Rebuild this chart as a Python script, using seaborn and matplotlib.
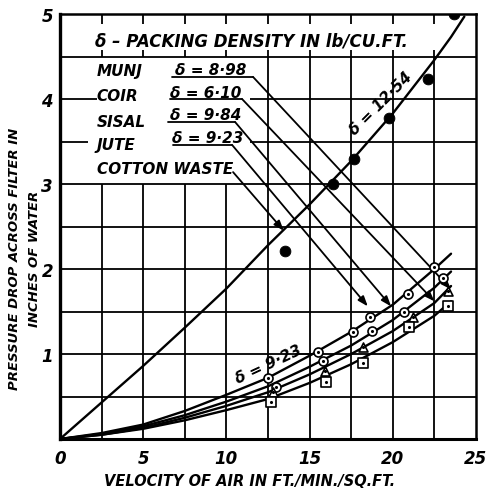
import numpy as np
import pandas as pd
import matplotlib
matplotlib.use("Agg")
import matplotlib.pyplot as plt
import seaborn as sns

# ---- fitted curves: velocity of air (ft/min/sq.ft) vs pressure drop (in. water)
curve_x = [0, 2.5, 5, 7.5, 10, 12.5, 15, 17.5, 20, 22.5, 23.5]
jute_curve = [0, 0.07, 0.17, 0.33, 0.52, 0.72, 0.98, 1.26, 1.58, 2.00, 2.18]
sisal_curve = [0, 0.06, 0.15, 0.28, 0.44, 0.62, 0.85, 1.10, 1.40, 1.78, 1.97]
coir_curve = [0, 0.05, 0.13, 0.25, 0.39, 0.55, 0.76, 1.00, 1.27, 1.60, 1.80]
munj_curve = [0, 0.05, 0.12, 0.22, 0.34, 0.47, 0.66, 0.88, 1.14, 1.45, 1.62]

cotton_x = [0, 2.5, 5, 7.5, 10, 12.5, 15, 17.5, 20, 22.5, 23.5, 24.3]
cotton_curve = [0, 0.43, 0.86, 1.31, 1.77, 2.28, 2.76, 3.27, 3.83, 4.46, 4.73, 4.97]

# ---- measured points
cotton_pts_x = [13.55, 16.4, 17.65, 19.8, 22.1, 23.7]
cotton_pts_y = [2.21, 3.00, 3.29, 3.78, 4.24, 5.00]
jute_pts_x = [12.5, 15.5, 17.6, 18.6, 20.9, 22.5]
jute_pts_y = [0.72, 1.02, 1.26, 1.43, 1.71, 2.02]
sisal_pts_x = [13.0, 15.8, 18.75, 20.7, 23.0]
sisal_pts_y = [0.61, 0.92, 1.27, 1.50, 1.90]
coir_pts_x = [12.8, 15.9, 18.2, 21.2, 23.3]
coir_pts_y = [0.55, 0.80, 1.08, 1.43, 1.74]
munj_pts_x = [12.7, 16.0, 18.2, 21.0, 23.3]
munj_pts_y = [0.43, 0.67, 0.90, 1.32, 1.57]

# ---- key text
fibres = ["MUNJ", "COIR", "SISAL", "JUTE", "COTTON WASTE"]
densities = ["8·98", "6·10", "9·84", "9·23"]
x_ticks = [0, 5, 10, 15, 20, 25]
y_ticks = [1, 2, 3, 4, 5]

sns.set_style("white")
plt.rcParams["font.family"] = ["DejaVu Sans"]
FONT = dict(fontweight="bold", fontstyle="italic", color="black")

fig = plt.figure(figsize=(4.87, 4.89), dpi=100)
ax = fig.add_axes([60 / 487, 1 - 440 / 489, 416 / 487, 425 / 489])
ax.set_xlim(0, 25)
ax.set_ylim(0, 5)

# ---- grid, hand-ruled with a blank panel for the key
g = dict(color="black", lw=1.3, zorder=1)
for yv in [0.5, 1.0, 1.5, 2.0, 2.5, 3.0, 4.5]:
    ax.hlines(yv, 0, 25, **g)
ax.hlines(4.0, 0, 2.2, **g)
ax.hlines(3.5, 0, 1.7, **g)
ax.hlines([4.0, 3.5], 11.4, 25, **g)
for xv in [2.5, 5, 7.5, 10]:
    ax.vlines(xv, 0, 3.0, **g)
for xv in [12.5, 15, 17.5, 20, 22.5]:
    ax.vlines(xv, 0, 4.5, **g)
for xv in [2.5, 5, 7.5, 10, 12.5, 15, 17.5, 20, 22.5]:
    ax.vlines(xv, 4.5, 4.58, **g)
    ax.vlines(xv, 4.88, 5.0, **g)

# ---- curves
line_kw = dict(color="black", lw=1.7, ax=ax, sort=False, estimator=None, zorder=3)
sns.lineplot(x=cotton_x, y=cotton_curve, **line_kw)
for c in [jute_curve, sisal_curve, coir_curve, munj_curve]:
    sns.lineplot(x=curve_x, y=c, **line_kw)

# ---- points
sns.scatterplot(x=cotton_pts_x, y=cotton_pts_y, ax=ax, color="black", s=60,
                edgecolor="black", zorder=5)
for px, py, mk in [(jute_pts_x, jute_pts_y, "o"), (sisal_pts_x, sisal_pts_y, "o"),
                   (coir_pts_x, coir_pts_y, "^"), (munj_pts_x, munj_pts_y, "s")]:
    sns.scatterplot(x=px, y=py, ax=ax, marker=mk, s=42, color="white",
                    edgecolor="black", linewidth=1.2, zorder=5)
    sns.scatterplot(x=px, y=py, ax=ax, marker="o", s=5, color="black",
                    edgecolor="black", linewidth=0, zorder=6)

# ---- key
ax.text(2.1, 4.69, "δ – PACKING DENSITY IN lb/CU.FT.", fontsize=12,
        va="center", ha="left", zorder=7, **FONT)
fibre_pos_y = [4.33, 4.04, 3.74, 3.47, 3.18]
for name, yv in zip(fibres, fibre_pos_y):
    ax.text(2.2, yv, name, fontsize=11, va="center", ha="left", zorder=7, **FONT)
dens_pos = [(6.9, 4.35), (6.6, 4.08), (6.6, 3.82), (6.75, 3.55)]
for d, (xv, yv) in zip(densities, dens_pos):
    ax.text(xv, yv, f"δ = {d}", fontsize=11, va="center", ha="left", zorder=7, **FONT)

# underlines and leaders to the curves
under_start = [6.73, 6.61, 6.49, 6.79]
corners = [(11.6, 4.26), (10.94, 4.0), (10.52, 3.73), (10.34, 3.46)]
tips = [(23.5, 1.76), (22.5, 1.62), (19.9, 1.56), (18.5, 1.56)]
arrow = dict(arrowstyle="-|>,head_length=0.6,head_width=0.22", color="black",
             lw=1.3, shrinkA=0, shrinkB=0)
for xs, (cx, cy), tip in zip(under_start, corners, tips):
    ax.plot([xs, cx], [cy, cy], color="black", lw=1.3, zorder=4)
    ax.annotate("", xy=tip, xytext=(cx, cy), arrowprops=arrow, zorder=4)
ax.annotate("", xy=(13.45, 2.45), xytext=(10.4, 3.14), arrowprops=arrow, zorder=4)

# curve labels
ax.text(19.3, 3.95, "δ = 12·54", fontsize=11, rotation=45, ha="center",
        va="center", zorder=7, **FONT)
ax.text(12.5, 0.88, "δ = 9·23", fontsize=11, rotation=25, ha="center",
        va="center", zorder=7, **FONT)
ax.plot([14.2, 15.3], [1.0, 1.0], color="black", lw=1.2, zorder=4)

# ---- axes frame and labels
for sp in ax.spines.values():
    sp.set_visible(True)
    sp.set_color("black")
    sp.set_linewidth(1.8)
ax.spines["left"].set_linewidth(2.4)
ax.spines["bottom"].set_linewidth(2.2)

ax.set_xticks(x_ticks)
ax.set_xticklabels([str(v) for v in x_ticks], fontsize=12, **FONT)
ax.set_yticks(y_ticks)
ax.set_yticklabels([str(v) for v in y_ticks], fontsize=12, **FONT)
ax.tick_params(axis="x", length=0, pad=7)
ax.tick_params(axis="y", length=0, pad=5)
ax.set_xlabel("")
ax.set_ylabel("")

fig.text(0.513, 0.016, "VELOCITY OF AIR IN FT./MIN./SQ.FT.", fontsize=10.5,
         ha="center", va="center", **FONT)
fig.text(0.029, 0.47, "PRESSURE DROP ACROSS FILTER IN", fontsize=9.5,
         rotation=90, ha="center", va="center", **FONT)
fig.text(0.071, 0.47, "INCHES OF WATER", fontsize=9.5, rotation=90,
         ha="center", va="center", **FONT)

fig.savefig("out.png", dpi=100)
